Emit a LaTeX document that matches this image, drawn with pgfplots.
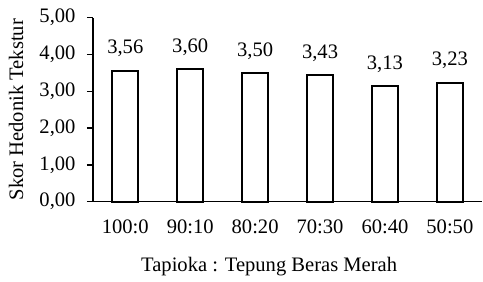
\documentclass[border=0pt]{standalone}
\usepackage{pgfplots}
\pgfplotsset{compat=1.18}
\usepackage{fontspec}
\setmainfont{Liberation Serif}
\begin{document}
\fontsize{10.3}{12}\selectfont
\begin{tikzpicture}
\begin{axis}[
  scale only axis,
  width=195pt, height=92.2pt,
  xmin=-0.5, xmax=5.5,
  ymin=0, ymax=5,
  axis lines*=left,
  axis line style={line width=0.7pt, -},
  xtick=data,
  xticklabels={100:0,90:10,80:20,70:30,60:40,50:50},
  x tick style={draw=none},
  ytick={0,1,2,3,4,5},
  y tick style={line width=0.7pt, black},
  tick align=outside,
  major tick length=3pt,
  /pgf/number format/.cd, fixed, fixed zerofill, precision=2, use comma, assume math mode=true,
  /pgfplots/.cd,
  yticklabel style={anchor=east, inner sep=0pt, xshift=-5.5pt},
  xticklabel style={anchor=north, inner sep=0pt, yshift=-6pt},
  ylabel={Skor Hedonik Tekstur},
  ylabel style={at={(axis description cs:-0.1974,0.5)}, anchor=center, rotate=0, inner sep=0pt},
  xlabel={Tapioka : Tepung Beras Merah},
  xlabel style={at={(axis description cs:0.4526,0)}, anchor=base, yshift=-35pt, inner sep=0pt},
  ybar, bar width=13pt,
  nodes near coords,
  nodes near coords style={anchor=base, inner sep=0pt, yshift=8.4pt, /pgf/number format/.cd, fixed, fixed zerofill, precision=2, use comma, assume math mode=true},
  clip=false,
]
\addplot[draw=black, fill=white, line width=1pt] coordinates {(0,3.56) (1,3.60) (2,3.50) (3,3.43) (4,3.13) (5,3.23)};
\path[use as bounding box] (rel axis cs:0,0) ++(-46.5pt,-40pt) rectangle ([xshift=0pt,yshift=8.8pt]rel axis cs:1,1);
\end{axis}
\end{tikzpicture}
\end{document}
